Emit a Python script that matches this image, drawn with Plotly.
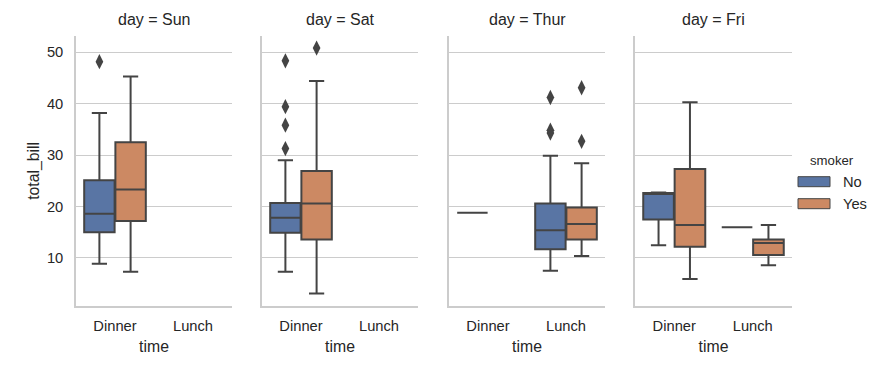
import plotly.graph_objects as go

# ---------------- data ----------------
days = ["Sun", "Sat", "Thur", "Fri"]
times = ["Dinner", "Lunch"]
smokers = ["No", "Yes"]

box_day = ["Sun", "Sun", "Sat", "Sat", "Thur", "Thur", "Thur", "Fri", "Fri", "Fri", "Fri"]
box_time = ["Dinner", "Dinner", "Dinner", "Dinner", "Dinner", "Lunch", "Lunch", "Dinner", "Dinner", "Lunch", "Lunch"]
box_smoker = ["No", "Yes", "No", "Yes", "No", "No", "Yes", "No", "Yes", "No", "Yes"]
q1 = [15.0, 17.2, 14.9, 13.6, 18.78, 11.7, 13.6, 17.48, 12.2, 15.98, 10.6]
median = [18.6, 23.3, 17.8, 20.6, 18.78, 15.4, 16.6, 22.49, 16.4, 15.98, 12.9]
q3 = [25.1, 32.5, 20.7, 26.9, 18.78, 20.6, 19.8, 22.62, 27.3, 15.98, 13.6]
lowerfence = [8.9, 7.3, 7.3, 3.07, 18.78, 7.5, 10.4, 12.46, 5.9, 15.98, 8.6]
upperfence = [38.2, 45.3, 29.0, 44.4, 18.78, 29.9, 28.4, 22.75, 40.3, 15.98, 16.4]

out_day = ["Sun", "Sat", "Sat", "Sat", "Sat", "Sat", "Thur", "Thur", "Thur", "Thur", "Thur"]
out_time = ["Dinner", "Dinner", "Dinner", "Dinner", "Dinner", "Dinner", "Lunch", "Lunch", "Lunch", "Lunch", "Lunch"]
out_smoker = ["No", "No", "No", "No", "No", "Yes", "No", "No", "No", "Yes", "Yes"]
out_value = [48.17, 48.33, 39.42, 35.83, 31.27, 50.81, 41.19, 34.83, 34.3, 43.11, 32.68]

y_ticks = [10, 20, 30, 40, 50]

# ---------------- style ----------------
colors = {"No": "#5975a4", "Yes": "#cc8963"}
edge = "#444444"
spine = "#cccccc"
txt = "#262626"
font_family = "Arial, Liberation Sans, sans-serif"
W, H = 881, 366
panel_px = [(76, 232), (262, 418), (449, 605), (635, 792)]
y_top_px, y_bot_px = 35.8, 305.9
hue_offset = {"No": -0.2, "Yes": 0.2}

fig = go.Figure()

for i, d in enumerate(days):
    ax = "" if i == 0 else str(i + 1)
    for j in range(len(box_day)):
        if box_day[j] != d:
            continue
        pos = times.index(box_time[j]) + hue_offset[box_smoker[j]]
        fig.add_trace(go.Box(
            x=[pos], q1=[q1[j]], median=[median[j]], q3=[q3[j]],
            lowerfence=[lowerfence[j]], upperfence=[upperfence[j]],
            width=0.39, whiskerwidth=0.5, boxpoints=False,
            fillcolor=colors[box_smoker[j]],
            line=dict(color=edge, width=2),
            xaxis="x" + ax, yaxis="y" + ax, showlegend=False,
            name=box_smoker[j],
        ))
    ox = [times.index(out_time[k]) + hue_offset[out_smoker[k]] for k in range(len(out_day)) if out_day[k] == d]
    oy = [out_value[k] for k in range(len(out_day)) if out_day[k] == d]
    if ox:
        fig.add_trace(go.Scatter(
            x=ox, y=oy, mode="markers",
            marker=dict(symbol="diamond-tall", size=11, color=edge, line=dict(width=0)),
            xaxis="x" + ax, yaxis="y" + ax, showlegend=False,
        ))

layout = dict(
    width=W, height=H,
    margin=dict(l=0, r=0, t=0, b=0),
    paper_bgcolor="white", plot_bgcolor="white",
    font=dict(family=font_family, color=txt, size=14.7),
    showlegend=False,
    boxmode="overlay",
)
ydom = [1 - y_bot_px / H, 1 - y_top_px / H]
annotations = []
for i, d in enumerate(days):
    ax = "" if i == 0 else str(i + 1)
    x0, x1 = panel_px[i]
    layout["xaxis" + ax] = dict(
        domain=[x0 / W, x1 / W], range=[-0.5, 1.5], anchor="y" + ax,
        tickvals=list(range(len(times))), ticktext=times,
        showgrid=False, zeroline=False, showline=True, linecolor=spine, linewidth=1.5,
        ticks="", ticklabelstandoff=6,
        title=dict(text="time", standoff=8, font=dict(size=15.8)),
        fixedrange=True,
    )
    layout["yaxis" + ax] = dict(
        domain=ydom, range=[0.68, 53.2], anchor="x" + ax,
        tickvals=y_ticks, showticklabels=(i == 0),
        showgrid=True, gridcolor=spine, gridwidth=1.2, zeroline=False,
        showline=True, linecolor=spine, linewidth=1.5,
        ticks="", ticklabelstandoff=8,
        title=dict(text="total_bill" if i == 0 else "", standoff=3, font=dict(size=15.8)),
        fixedrange=True,
    )
    if i > 0:
        layout["yaxis" + ax]["matches"] = "y"
    annotations.append(dict(
        text="day = " + d, x=(x0 + x1) / 2 / W, y=1 - 20 / H, xref="paper", yref="paper",
        showarrow=False, xanchor="center", yanchor="middle", font=dict(size=16),
    ))

# manual legend (seaborn style)
annotations.append(dict(text="smoker", x=832 / W, y=1 - 160.5 / H, xref="paper", yref="paper",
                        showarrow=False, xanchor="center", yanchor="middle", font=dict(size=13.2)))
shapes = []
for k, s in enumerate(smokers):
    yc = 181.7 + 22 * k
    shapes.append(dict(type="rect", xref="paper", yref="paper",
                       x0=798 / W, x1=830 / W, y0=1 - (yc + 5) / H, y1=1 - (yc - 5) / H,
                       fillcolor=colors[s], line=dict(color=edge, width=1)))
    annotations.append(dict(text=s, x=841 / W, y=1 - yc / H, xref="paper", yref="paper",
                            showarrow=False, xanchor="left", yanchor="middle", font=dict(size=14.7)))
layout["annotations"] = annotations
layout["shapes"] = shapes
fig.update_layout(**layout)

fig.write_html("out.html", config={"displayModeBar": False},
               post_script="document.body.style.margin='0';")
